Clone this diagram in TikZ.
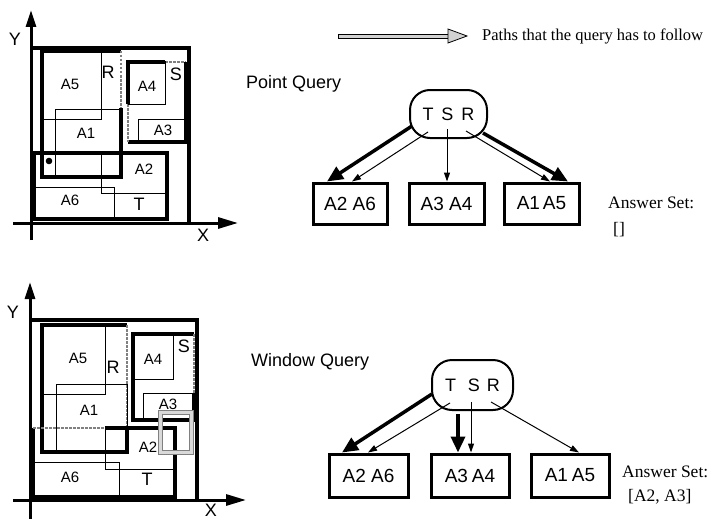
\documentclass[tikz,border=0pt]{standalone}
\usepackage{fontspec}
\setmainfont{Liberation Serif}
\newfontfamily\arial{Liberation Sans}
\usetikzlibrary{arrows.meta}

\tikzset{
  mbr/.style={line width=3.3pt},
  leaf/.style={line width=1pt},
  faded/.style={line width=1.2pt, gray, dash pattern=on 2.5pt off 1.5pt},
  axisline/.style={line width=3pt},
  yarrow/.style={axisline, -{Triangle[length=17pt,width=10pt]}},
  xarrow/.style={axisline, -{Triangle[length=20pt,width=11pt]}},
  biglab/.style={font=\arial\fontsize{18}{18}\selectfont, inner sep=0pt},
  smalllab/.style={font=\arial\fontsize{15}{15}\selectfont, inner sep=0pt},
  title/.style={font=\arial\fontsize{18}{18}\selectfont, inner sep=0pt, anchor=west},
  serif/.style={font=\fontsize{17.5}{17.5}\selectfont, inner sep=0pt, anchor=west},
  dirnode/.style={draw, line width=2pt, rounded corners=20pt, inner sep=0pt,
    font=\arial\fontsize{18}{18}\selectfont},
  leafnode/.style={draw, line width=3pt, inner sep=0pt, minimum height=41pt,
    font=\arial\fontsize{19}{19}\selectfont},
  bigarrow/.style={line width=3.5pt, -{Triangle[length=16pt,width=14pt]}},
  thinarrow/.style={line width=1pt, -{Triangle[length=9pt,width=6pt]}},
  window/.style={draw=gray, double=lightgray!60, double distance=3pt, line width=1pt},
}

\begin{document}
\begin{tikzpicture}[x=1pt,y=-1pt]
\useasboundingbox (0,0) rectangle (728,519);

% ---------- legend ----------
\draw[line width=0.8pt, fill=lightgray!70] (338,34) rectangle (448,38.5);
\draw[line width=0.8pt, fill=lightgray!70] (448,29) -- (467,36) -- (448,43) -- cycle;
\node[font=\fontsize{16.5}{16.5}\selectfont, inner sep=0pt, anchor=west] (legend) at (482,36)
  {Paths that the query has to follow};

% ================= point query: space =================
\draw[yarrow] (31,240) -- (31,10);
\draw[xarrow] (13,223) -- (238,223);
\node[biglab] (py) at (15,39) {Y};
\node[biglab] (px) at (203,235) {X};
% root extent
\draw[mbr] (31,48) -- (189,48) -- (189,223);
% R
\draw[mbr] (121,108) -- (121,177) -- (42,177) -- (42,51) -- (121,51);
\draw[faded] (121,51) -- (121,108);
\draw[leaf] (42,51) rectangle (101,119);
\draw[leaf] (55,109) rectangle (121,177);
% S
\draw[mbr] (128,104) -- (128,62) -- (165,62);
\draw[faded] (165,62) -- (186,62);
\draw[mbr] (186,62) -- (186,142) -- (128,142);
\draw[faded] (128,104) -- (128,142);
\draw[leaf] (128,62) rectangle (165,104);
\draw[leaf] (138,119) rectangle (186,142);
% T
\draw[mbr] (34,153) rectangle (167,219);
\draw[leaf] (101,153) rectangle (167,193);
\draw[leaf] (34,187) rectangle (114,219);
% query point
\fill (49,161) circle (3.3);
% labels
\node[biglab] (pR) at (108,72) {R};
\node[smalllab] (pA5) at (70,84) {A5};
\node[smalllab] (pA1) at (86,133) {A1};
\node[biglab] (pS) at (176,74) {S};
\node[smalllab] (pA4) at (147,86) {A4};
\node[smalllab] (pA3) at (163,130) {A3};
\node[smalllab] (pA2) at (144,169) {A2};
\node[smalllab] (pA6) at (70,200) {A6};
\node[biglab] (pT) at (139,204) {T};

% ================= point query: tree =================
\node[title] (ptitle) at (246,84) {Point Query};
\node[dirnode, minimum width=77pt, minimum height=48pt] (root1) at (448.5,114)
  {T\hspace{8pt}S\hspace{8pt}R};
\node[leafnode, minimum width=74pt] (n1a) at (350,203.5) {A2 A6};
\node[leafnode, minimum width=75pt] (n1b) at (446.5,203.5) {A3 A4};
\node[leafnode, minimum width=75pt] (n1c) at (541.5,203.5) {A1\hspace{3pt}A5};
\draw[bigarrow] ([shift={(-36.5,12)}]root1.center) -- ([shift={(-23,0)}]n1a.north);
\draw[thinarrow] ([shift={(-20.5,18)}]root1.center) -- ([shift={(2,0)}]n1a.north);
\draw[thinarrow] ([shift={(-1.5,15)}]root1.center) -- ([shift={(0.5,0)}]n1b.north);
\draw[thinarrow] ([shift={(17.5,17)}]root1.center) -- ([shift={(8.5,0)}]n1c.north);
\draw[bigarrow] ([shift={(34.5,19)}]root1.center) -- ([shift={(26.5,0)}]n1c.north);
\node[serif] (ans1) at (608,203) {Answer Set:};
\node[serif] (set1) at (613,230) {[]};

% ================= window query: space =================
\draw[yarrow] (30,519) -- (30,282);
\draw[xarrow] (13,500) -- (246,500);
\node[biglab] (wy) at (13,312) {Y};
\node[biglab] (wx) at (211,510) {X};
% root extent
\draw[mbr] (30,320) -- (197,320) -- (197,500);
% R
\draw[mbr] (127,427) -- (127,452) -- (42,452) -- (42,325) -- (127,325);
\draw[faded] (127,325) -- (127,427);
\draw[leaf] (42,325) rectangle (105,394);
\draw[leaf] (56,384) rectangle (127,452);
% S
\draw[mbr] (194,393) -- (194,420) -- (133,420) -- (133,334) -- (194,334);
\draw[faded] (194,334) -- (194,393);
\draw[leaf] (133,334) rectangle (173,379);
\draw[leaf] (143,393) rectangle (194,420);
% T
\draw[mbr] (105,428) -- (175,428) -- (175,497) -- (33,497) -- (33,428);
\draw[faded] (33,428) -- (105,428);
\draw[leaf] (105,428) rectangle (175,469);
\draw[leaf] (33,462) rectangle (119,497);
% query window
\draw[window] (160,412) rectangle (191,452);
% labels
\node[biglab] (wR) at (113,367) {R};
\node[smalllab] (wA5) at (78,358) {A5};
\node[smalllab] (wA1) at (89,410) {A1};
\node[biglab] (wS) at (184,346) {S};
\node[smalllab] (wA4) at (153,359) {A4};
\node[smalllab] (wA3) at (168,404) {A3};
\node[smalllab] (wA2) at (148,447) {A2};
\node[smalllab] (wA6) at (70,477) {A6};
\node[biglab] (wT) at (147,479) {T};

% ================= window query: tree =================
\node[title] (wtitle) at (251,362) {Window Query};
\node[dirnode, minimum width=81pt, minimum height=50pt] (root2) at (472.5,385)
  {T\hspace{12pt}S\hspace{7pt}R};
\node[leafnode, minimum width=79pt, minimum height=43pt] (n2a) at (368.5,475.5) {A2 A6};
\node[leafnode, minimum width=78pt, minimum height=43pt] (n2b) at (470,475.5) {A3\hspace{4pt}A4};
\node[leafnode, minimum width=78pt, minimum height=43pt] (n2c) at (570,475.5) {A1\hspace{4pt}A5};
\draw[bigarrow] ([shift={(-40.5,9)}]root2.center) -- ([shift={(-26.5,0)}]n2a.north);
\draw[thinarrow] ([shift={(-22.5,18)}]root2.center) -- ([shift={(-0.5,0)}]n2a.north);
\draw[bigarrow] ([shift={(-14.5,29)}]root2.center) -- ([shift={(-12,0)}]n2b.north);
\draw[thinarrow] ([shift={(-1.5,17)}]root2.center) -- ([shift={(1,0)}]n2b.north);
\draw[thinarrow] ([shift={(18.5,17)}]root2.center) -- ([shift={(9,0)}]n2c.north);
\node[serif] (ans2) at (622,472) {Answer Set:};
\node[serif] (set2) at (628,497) {[A2, A3]};
\end{tikzpicture}
\end{document}
